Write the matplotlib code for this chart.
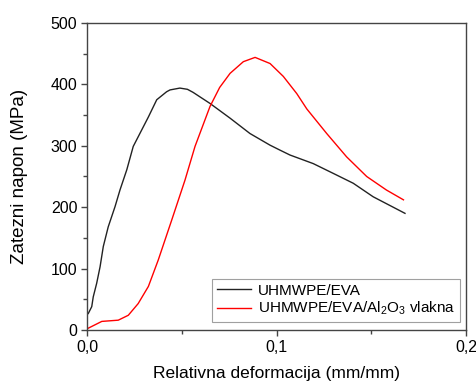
import matplotlib
matplotlib.use("Agg")
import matplotlib.pyplot as plt
from matplotlib.ticker import MultipleLocator, FuncFormatter

# Datos (deformacion, napon)
x_eva = [0.0, 0.0007, 0.0025, 0.0033, 0.0051, 0.0069, 0.0086, 0.0112, 0.0148, 0.0174,
         0.021, 0.0244, 0.0289, 0.0324, 0.0368, 0.042, 0.0438, 0.049, 0.053, 0.056,
         0.0649, 0.0755, 0.086, 0.0966, 0.1018, 0.1071, 0.1194, 0.13, 0.1405, 0.151,
         0.1678]
y_eva = [25, 27, 38, 54, 76, 103, 136, 168, 201, 228,
         261, 299, 326, 347, 375, 388, 391, 394, 392, 387,
         369, 345, 320, 301, 293, 285, 271, 255, 239, 217,
         190]

x_al = [0.0, 0.0007, 0.0078, 0.0165, 0.0218, 0.027, 0.0324, 0.0376, 0.0447, 0.0517,
        0.057, 0.0649, 0.070, 0.0755, 0.0825, 0.0887, 0.0966, 0.1036, 0.1107, 0.116,
        0.1265, 0.137, 0.1476, 0.158, 0.167]
y_al = [2, 3, 14, 16, 24, 43, 71, 114, 179, 244,
        299, 364, 395, 418, 437, 444, 434, 413, 385, 360,
        320, 282, 250, 228, 212]

labels = ["UHMWPE/EVA", "UHMWPE/EVA/Al$_2$O$_3$ vlakna"]

plt.rcParams["font.family"] = ["Liberation Sans", "DejaVu Sans"]
plt.rcParams["mathtext.fontset"] = "custom"
plt.rcParams["mathtext.rm"] = "Liberation Sans"
plt.rcParams["mathtext.it"] = "Liberation Sans"

fig = plt.figure(figsize=(4.76, 3.85), dpi=100)
ax = fig.add_axes([87 / 476, 55 / 385, 379 / 476, 307 / 385])

ax.plot(x_eva, y_eva, color="#222222", lw=1.0, label=labels[0])
ax.plot(x_al, y_al, color="#ff0000", lw=1.0, label=labels[1])

ax.set_xlim(0, 0.2)
ax.set_ylim(0, 500)
ax.xaxis.set_major_locator(MultipleLocator(0.1))
ax.xaxis.set_minor_locator(MultipleLocator(0.05))
ax.yaxis.set_major_locator(MultipleLocator(100))
ax.yaxis.set_minor_locator(MultipleLocator(50))
ax.xaxis.set_major_formatter(FuncFormatter(lambda v, p: ("%.1f" % v).replace(".", ",")))

for s in ax.spines.values():
    s.set_color("#444444")
    s.set_linewidth(1.0)
ax.tick_params(which="major", length=4.5, width=1, color="#444444", labelsize=11.5, pad=2.5)
ax.tick_params(which="minor", length=3, width=1, color="#444444")

ax.set_xlabel("Relativna deformacija (mm/mm)", fontsize=12.5, va="top")
ax.set_ylabel("Zatezni napon (MPa)", fontsize=13.5)
ax.xaxis.set_label_coords(0.5, -0.117)
ax.yaxis.set_label_coords(-0.156, 0.5)

leg = ax.legend(loc="lower right", fontsize=11, frameon=True, fancybox=False,
                edgecolor="#888888", handlelength=2.2, handletextpad=0.5,
                borderpad=0.3, labelspacing=0.15, borderaxespad=0,
                bbox_to_anchor=(0.984, 0.026))
leg.get_frame().set_linewidth(0.8)

fig.savefig("out.png", dpi=100)
